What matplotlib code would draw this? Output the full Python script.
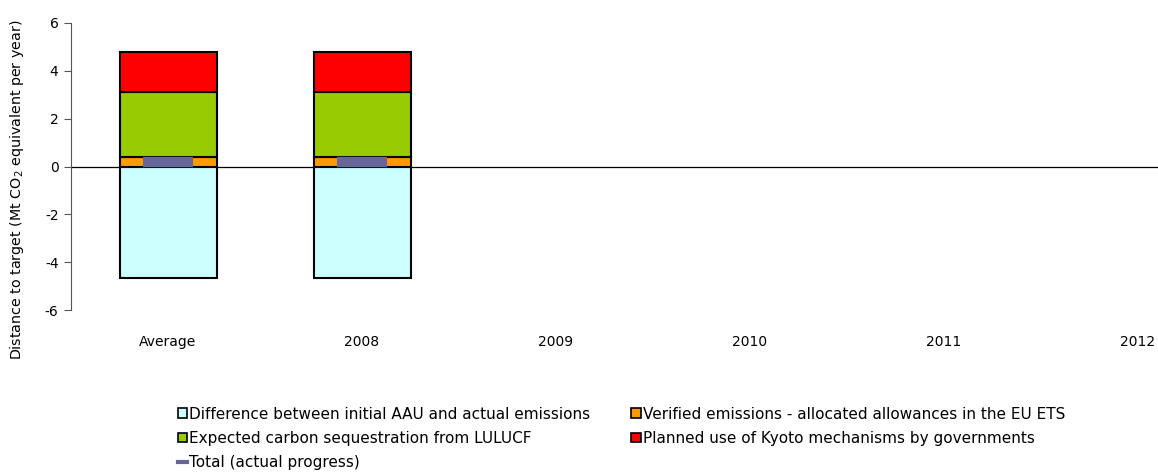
import matplotlib
matplotlib.use("Agg")
import matplotlib.pyplot as plt
from matplotlib.lines import Line2D
from matplotlib.patches import Patch
import numpy as np

categories = ["Average", "2008", "2009", "2010", "2011", "2012"]
aau_diff = [-4.65, -4.65, 0, 0, 0, 0]
ets_diff = [0.40, 0.40, 0, 0, 0, 0]
lulucf = [2.70, 2.70, 0, 0, 0, 0]
kyoto = [1.68, 1.68, 0, 0, 0, 0]
total = [0.19, 0.19, None, None, None, None]
y_ticks = [-6, -4, -2, 0, 2, 4, 6]

labels = ["Difference between initial AAU and actual emissions",
          "Verified emissions - allocated allowances in the EU ETS",
          "Expected carbon sequestration from LULUCF",
          "Planned use of Kyoto mechanisms by governments",
          "Total (actual progress)"]
colors = ["#CCFFFF", "#FF9900", "#99CC00", "#FF0000"]
total_color = "#666699"

plt.rcParams['font.family'] = ['DejaVu Sans']
fig = plt.figure(figsize=(11.58, 4.72), dpi=100)
ax = fig.add_axes([71/1158, 162/472, 1164/1158, 287/472])

x = np.arange(len(categories))
n_data = 2
xs = x[:n_data]
w = 0.5
ekw = dict(edgecolor="black", linewidth=1.5, width=w, zorder=2)
ax.bar(xs, aau_diff[:n_data], color=colors[0], **ekw)
ax.bar(xs, ets_diff[:n_data], color=colors[1], **ekw)
b2 = np.array(ets_diff[:n_data])
ax.bar(xs, lulucf[:n_data], bottom=b2, color=colors[2], **ekw)
b3 = b2 + np.array(lulucf[:n_data])
ax.bar(xs, kyoto[:n_data], bottom=b3, color=colors[3], **ekw)
ax.plot(xs, total[:n_data], linestyle="none", marker="_", markersize=36,
        markeredgewidth=7.5, color=total_color, zorder=3)

ax.axhline(0, color="black", linewidth=0.9, zorder=1)

ax.set_xlim(-0.5, len(categories) - 0.5)
ax.set_ylim(-6, 6)
ax.set_yticks(y_ticks)
ax.set_yticklabels([str(t) for t in y_ticks], fontsize=10)
ax.set_xticks(x)
ax.set_xticklabels(categories, fontsize=10)
ax.tick_params(axis="x", length=0, pad=18)
ax.tick_params(axis="y", direction="out", length=5, color="#555555", pad=4)
for s in ["top", "right", "bottom"]:
    ax.spines[s].set_visible(False)
ax.spines["left"].set_color("#555555")
ax.set_ylabel("Distance to target (Mt CO$_2$ equivalent per year)", fontsize=10.3)
ax.yaxis.set_label_coords(-0.039, 0.42)

handles = [
    Patch(facecolor=colors[0], edgecolor="black", linewidth=1.2),
    Patch(facecolor=colors[2], edgecolor="black", linewidth=1.2),
    Line2D([0], [0], color=total_color, linewidth=3),
    Patch(facecolor=colors[1], edgecolor="black", linewidth=1.2),
    Patch(facecolor=colors[3], edgecolor="black", linewidth=1.2),
]
hl = [labels[0], labels[2], labels[4], labels[1], labels[3]]
fig.legend(handles, hl, ncol=2, loc="upper left", bbox_to_anchor=(170/1158, 1 - 399/472),
           frameon=False, fontsize=11, handlelength=0.6, handleheight=0.6,
           handletextpad=0.15, columnspacing=2.7, labelspacing=0.6, borderpad=0)

fig.savefig("out.png", dpi=100)
